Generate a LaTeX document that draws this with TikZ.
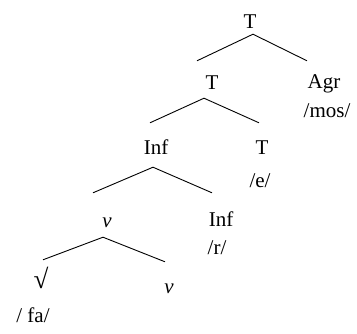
\documentclass[tikz,border=0pt]{standalone}
\usepackage{fontspec}
\setmainfont{Liberation Serif}
\usetikzlibrary{calc}
\begin{document}
\begin{tikzpicture}[x=1pt,y=-1pt,
  cat/.style={anchor=base,inner sep=0pt,text height=14pt,text depth=0pt,font=\fontsize{21}{25}\selectfont},
  lab/.style={anchor=base,inner sep=0pt,font=\fontsize{21}{25}\selectfont},
  branch/.style={line width=0.9pt}]
\useasboundingbox (0,0) rectangle (357,333);
% nodes
\node[cat] (t1) at (250,28) {T};
\node[cat] (t2) at (212,89) {T};
\node[cat] (agr) at (324,88) {Agr};
\node[lab] (mos) at (327,117) {/mos/};
\node[cat] (inf1) at (156,154) {Inf};
\node[cat] (t3) at (262,154) {T};
\node[lab] (e) at (260,187) {/e/};
\node[cat] (v1) at (107,227) {\textit{v}};
\node[cat] (inf2) at (221,226) {Inf};
\node[lab] (r) at (217,254) {/r/};
\node[cat,font=\fontsize{27}{30}\selectfont] (root) at (41,288) {√};
\node[cat] (v2) at (169,293) {\textit{v}};
\node[lab] (fa) at (33,322) {/ fa/};
% branches
\draw[branch] ($(t2.north)+(-15,-14)$) -- ($(t1.south)+(3,6)$) -- ($(agr.north)+(-17,-13)$);
\draw[branch] ($(inf1.north)+(-6,-17)$) -- ($(t2.south)+(-8,9)$) -- ($(t3.north)+(-3,-17)$);
\draw[branch] ($(v1.north)+(-14,-20)$) -- ($(inf1.south)+(-3,13)$) -- ($(inf2.north)+(-9,-19)$);
\draw[branch] ($(root.north)+(2,-14)$) -- ($(v1.south)+(-4,10)$) -- ($(v2.north)+(-4,-17)$);
\end{tikzpicture}
\end{document}
